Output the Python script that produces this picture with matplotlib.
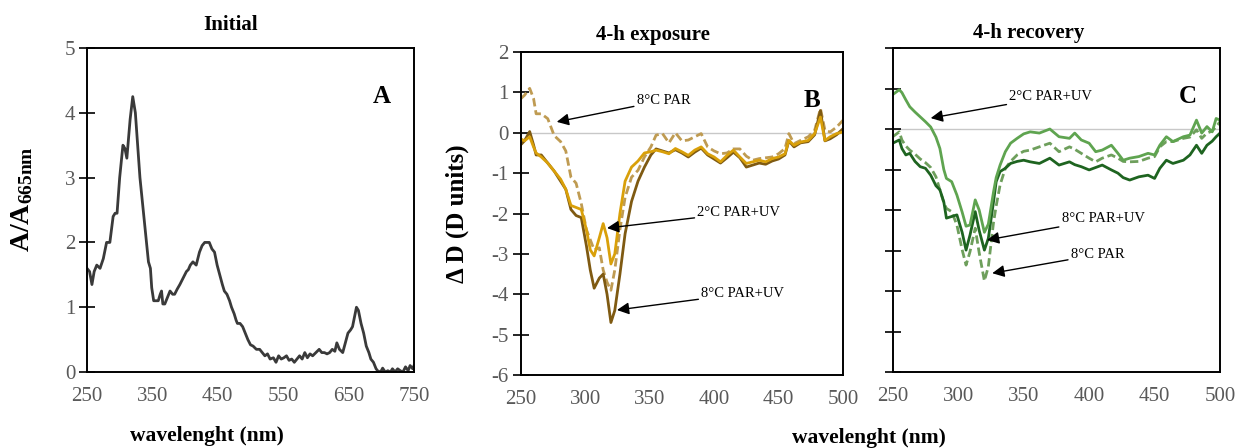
import matplotlib
matplotlib.use("Agg")
import matplotlib.pyplot as plt

plt.rcParams["font.family"] = ["Liberation Serif", "DejaVu Serif"]
plt.rcParams["mathtext.fontset"] = "custom"
plt.rcParams["mathtext.rm"] = "Liberation Serif"
plt.rcParams["mathtext.bf"] = "Liberation Serif:bold"
plt.rcParams["axes.unicode_minus"] = False

# ---- panel A: initial absorbance spectrum (normalised to 665 nm) ----
wl_a = [250, 254, 257.6, 261, 265, 270, 275, 280, 285, 290, 293, 296, 300, 305, 308,
        311, 316, 320, 324, 331, 339, 344, 347, 349, 352, 355, 359, 362, 364, 366,
        369, 373, 377, 381, 384, 388, 392, 397, 402, 405, 408, 412, 417, 422, 426,
        430, 434, 437, 441, 445, 449, 453, 457, 460, 464, 468, 471, 475, 478, 480,
        484, 488, 492, 496, 500, 504, 509, 514, 518, 522, 526, 530, 535, 539, 543,
        547, 551, 555, 559, 563, 567, 571, 575, 579, 583, 587, 591, 595, 600, 605,
        609, 613, 617, 621, 625, 629, 632, 636, 641, 645, 649, 653, 656, 659, 662,
        665, 669, 673, 677, 681, 684, 688, 692, 696, 700, 702, 706, 710, 714, 717,
        721, 725, 729, 733, 737, 741, 744, 748, 750]
abs_a = [1.6, 1.55, 1.35, 1.55, 1.65, 1.6, 1.75, 2.0, 2.0, 2.4, 2.45, 2.45, 3.0, 3.5, 3.45,
         3.3, 3.9, 4.25, 4.0, 3.0, 2.2, 1.7, 1.6, 1.3, 1.1, 1.1, 1.1, 1.2, 1.25, 1.05,
         1.05, 1.15, 1.25, 1.2, 1.2, 1.28, 1.35, 1.45, 1.55, 1.58, 1.65, 1.7, 1.65, 1.85, 1.95,
         2.0, 2.0, 2.0, 1.9, 1.85, 1.65, 1.5, 1.35, 1.25, 1.2, 1.1, 1.0, 0.9, 0.8, 0.75,
         0.75, 0.7, 0.6, 0.5, 0.42, 0.4, 0.35, 0.35, 0.3, 0.25, 0.28, 0.2, 0.22, 0.15, 0.25,
         0.2, 0.22, 0.25, 0.18, 0.2, 0.15, 0.2, 0.25, 0.2, 0.3, 0.22, 0.28, 0.25, 0.3, 0.35,
         0.3, 0.3, 0.28, 0.3, 0.35, 0.32, 0.45, 0.35, 0.3, 0.45, 0.6, 0.65, 0.7, 0.85, 1.0,
         0.95, 0.75, 0.6, 0.4, 0.3, 0.2, 0.15, 0.05, 0.0, 0.02, 0.06, 0.0, 0.02, 0.0, 0.05,
         0.0, 0.05, 0.02, 0.0, 0.08, 0.02, 0.1, 0.05, 0.1]

# ---- panel B: difference spectra after 4-h exposure ----
wl_b = [250, 253, 257, 260, 262, 266, 271, 276, 281, 285, 289, 293, 297, 301, 304,
        307, 311, 314, 317, 320, 323, 327, 331, 336, 341, 346, 351, 355, 360, 365,
        370, 375, 380, 385, 390, 395, 400, 405, 410, 415, 420, 425, 430, 435, 440,
        445, 450, 455, 458, 462, 467, 473, 478, 482.5, 486, 490, 495, 500]
b_8par = [0.84, 0.93, 1.1, 0.85, 0.47, 0.47, 0.35, -0.07, -0.22, -0.45, -1.1, -1.25, -1.75, -2.4, -2.65,
          -2.9, -2.85, -3.4, -3.7, -3.9, -3.4, -2.4, -1.6, -1.1, -0.93, -0.6, -0.35, -0.06, -0.02, -0.25,
          0.0, -0.2, -0.18, -0.1, -0.02, -0.35, -0.45, -0.52, -0.5, -0.4, -0.4, -0.58, -0.68, -0.64, -0.62,
          -0.6, -0.52, -0.39, -0.02, -0.27, -0.19, -0.1, 0.06, 0.6, 0.06, 0.02, 0.14, 0.31]
b_2paruv = [-0.15, -0.2, -0.1, -0.35, -0.5, -0.6, -0.75, -0.95, -1.15, -1.4, -1.8, -1.85, -1.9, -2.4, -2.9,
            -3.05, -2.6, -2.25, -2.6, -3.25, -3.0, -2.0, -1.2, -0.85, -0.7, -0.5, -0.47, -0.43, -0.47, -0.52,
            -0.39, -0.47, -0.56, -0.43, -0.35, -0.52, -0.6, -0.72, -0.56, -0.43, -0.6, -0.76, -0.72, -0.68, -0.72,
            -0.64, -0.6, -0.52, -0.19, -0.31, -0.23, -0.19, -0.02, 0.39, -0.19, -0.1, -0.02, 0.02]
b_8paruv = [-0.3, -0.2, 0.03, -0.3, -0.55, -0.55, -0.75, -0.95, -1.2, -1.4, -1.9, -2.05, -2.1, -2.8, -3.4,
            -3.85, -3.6, -3.5, -4.0, -4.7, -4.4, -3.5, -2.5, -1.7, -1.2, -0.85, -0.55, -0.4, -0.45, -0.5,
            -0.42, -0.5, -0.6, -0.48, -0.38, -0.55, -0.65, -0.75, -0.62, -0.48, -0.62, -0.85, -0.8, -0.75, -0.78,
            -0.7, -0.65, -0.55, -0.2, -0.35, -0.25, -0.22, -0.05, 0.55, -0.2, -0.15, -0.05, 0.1]

# ---- panel C: difference spectra after 4-h recovery ----
wl_c = [250, 255, 257, 260, 263, 267, 271, 275, 279, 283, 286, 289, 291, 295, 299,
        303, 306, 309, 313, 316, 320, 323, 327, 329, 332, 336, 340, 345, 350, 355,
        362, 370, 377, 385, 389, 394, 400, 405, 410, 417, 422, 426, 431, 438, 445,
        450, 454, 459, 464, 472, 477, 482, 486, 490, 494, 497, 500]
c_2paruv = [0.85, 0.97, 0.9, 0.72, 0.55, 0.42, 0.3, 0.18, 0.05, -0.2, -0.48, -1.0, -1.22, -1.3, -1.63,
            -2.05, -2.4, -2.37, -1.75, -2.0, -2.55, -2.35, -1.55, -1.2, -0.89, -0.56, -0.35, -0.23, -0.12, -0.07,
            -0.1, 0.0, -0.19, -0.23, -0.1, -0.27, -0.35, -0.56, -0.52, -0.4, -0.6, -0.77, -0.72, -0.68, -0.6,
            -0.64, -0.4, -0.19, -0.31, -0.19, -0.15, 0.22, -0.1, 0.06, -0.07, 0.26, 0.22]
c_8par = [-0.19, -0.07, -0.27, -0.42, -0.52, -0.62, -0.74, -0.83, -0.95, -1.18, -1.5, -1.82, -1.96, -2.04, -2.37,
          -2.98, -3.36, -3.03, -2.45, -3.05, -3.75, -3.4, -2.3, -1.9, -1.38, -0.97, -0.8, -0.64, -0.55, -0.52,
          -0.44, -0.35, -0.56, -0.44, -0.5, -0.6, -0.72, -0.81, -0.72, -0.64, -0.72, -0.8, -0.81, -0.8, -0.72,
          -0.68, -0.44, -0.31, -0.31, -0.23, -0.2, -0.02, -0.23, -0.1, -0.05, 0.06, 0.18]
c_8paruv = [-0.35, -0.27, -0.48, -0.64, -0.6, -0.8, -0.93, -0.97, -1.14, -1.4, -1.5, -1.8, -2.2, -2.16, -2.12,
            -2.55, -2.99, -2.62, -2.04, -2.5, -2.99, -2.7, -1.79, -1.3, -1.05, -0.97, -0.85, -0.8, -0.77, -0.81,
            -0.85, -0.72, -0.89, -0.81, -0.88, -0.93, -1.01, -0.95, -0.89, -1.01, -1.09, -1.2, -1.26, -1.18, -1.14,
            -1.22, -0.97, -0.77, -0.85, -0.77, -0.64, -0.4, -0.6, -0.4, -0.3, -0.19, -0.1]

TICK_GREY = "#595959"
LW = 2.0
DASH = (3.0, 1.4)


def style_axes(ax, show_ylabels=True):
    for sp in ax.spines.values():
        sp.set_linewidth(1.4)
        sp.set_color("black")
    ax.tick_params(axis="y", direction="inout", length=11, width=1.2,
                   labelsize=15, labelcolor=TICK_GREY, pad=3,
                   labelleft=show_ylabels)
    ax.tick_params(axis="x", length=0, labelsize=15, labelcolor=TICK_GREY, pad=11)


def arrow(ax, text, xy, xytext):
    ax.annotate(text, xy=xy, xytext=xytext, fontsize=10.5, va="center", ha="left",
                arrowprops=dict(arrowstyle="-|>", color="black", lw=1.0,
                                mutation_scale=18, shrinkA=0, shrinkB=0))


fig = plt.figure(figsize=(12.37, 4.48), dpi=100)

# A
ax_a = fig.add_axes([0.0703, 0.1696, 0.2644, 0.7232])
ax_a.plot(wl_a, abs_a, color="#3a3a3a", lw=LW)
ax_a.set_xlim(250, 750)
ax_a.set_ylim(0, 5)
ax_a.set_xticks([250, 350, 450, 550, 650, 750])
ax_a.set_yticks([0, 1, 2, 3, 4, 5])
style_axes(ax_a)
ax_a.set_ylabel(r"$\mathbf{A/A_{665nm}}$", fontsize=20, va="center")
ax_a.yaxis.set_label_coords(-0.199, 0.534)
ax_a.text(0.93, 0.85, "A", transform=ax_a.transAxes, fontsize=18,
          fontweight="bold", ha="right", va="center")

# B
ax_b = fig.add_axes([0.4209, 0.1629, 0.2606, 0.721])
ax_b.axhline(0, color="#c8c8c8", lw=1.0, zorder=0)
ax_b.plot(wl_b, b_8par, color="#bf9b52", lw=LW, ls=(0, DASH))
ax_b.plot(wl_b, b_8paruv, color="#7f5a12", lw=LW)
ax_b.plot(wl_b, b_2paruv, color="#d9a00a", lw=LW)
ax_b.set_xlim(250, 500)
ax_b.set_ylim(-6, 2)
ax_b.set_xticks([250, 300, 350, 400, 450, 500])
ax_b.set_yticks(range(-6, 3))
style_axes(ax_b)
ax_b.set_ylabel("Δ D (D units)", fontsize=18, fontweight="bold", va="center")
ax_b.yaxis.set_label_coords(-0.198, 0.50)
ax_b.text(0.93, 0.85, "B", transform=ax_b.transAxes, fontsize=18,
          fontweight="bold", ha="right", va="center")
arrow(ax_b, "8°C PAR", (278, 0.27), (340, 0.8))
arrow(ax_b, "2°C PAR+UV", (317, -2.36), (387, -1.98))
arrow(ax_b, "8°C PAR+UV", (324.7, -4.39), (390, -3.98))

# C
ax_c = fig.add_axes([0.7217, 0.1696, 0.2646, 0.7232])
ax_c.axhline(0, color="#c8c8c8", lw=1.0, zorder=0)
ax_c.plot(wl_c, c_8par, color="#6e9f5c", lw=LW, ls=(0, DASH))
ax_c.plot(wl_c, c_8paruv, color="#1e6420", lw=LW)
ax_c.plot(wl_c, c_2paruv, color="#5fa450", lw=LW)
ax_c.set_xlim(250, 500)
ax_c.set_ylim(-6, 2)
ax_c.set_xticks([250, 300, 350, 400, 450, 500])
ax_c.set_yticks(range(-6, 3))
style_axes(ax_c, show_ylabels=False)
ax_c.text(0.93, 0.85, "C", transform=ax_c.transAxes, fontsize=18,
          fontweight="bold", ha="right", va="center")
arrow(ax_c, "2°C PAR+UV", (279, 0.27), (339, 0.8))
arrow(ax_c, "8°C PAR+UV", (322, -2.74), (379, -2.22))
arrow(ax_c, "8°C PAR", (326, -3.56), (386, -3.1))

# titles and shared labels
fig.text(231 / 1237, 1 - 25 / 448, "Initial", fontsize=15, fontweight="bold",
         ha="center", va="center")
fig.text(653 / 1237, 1 - 35 / 448, "4-h exposure", fontsize=15, fontweight="bold",
         ha="center", va="center")
fig.text(1029 / 1237, 1 - 33 / 448, "4-h recovery", fontsize=15, fontweight="bold",
         ha="center", va="center")
fig.text(207 / 1237, 1 - 436 / 448, "wavelenght (nm)", fontsize=15.5, fontweight="bold",
         ha="center", va="center")
fig.text(869 / 1237, 1 - 438 / 448, "wavelenght (nm)", fontsize=15.5, fontweight="bold",
         ha="center", va="center")

fig.savefig("out.png", dpi=100)
